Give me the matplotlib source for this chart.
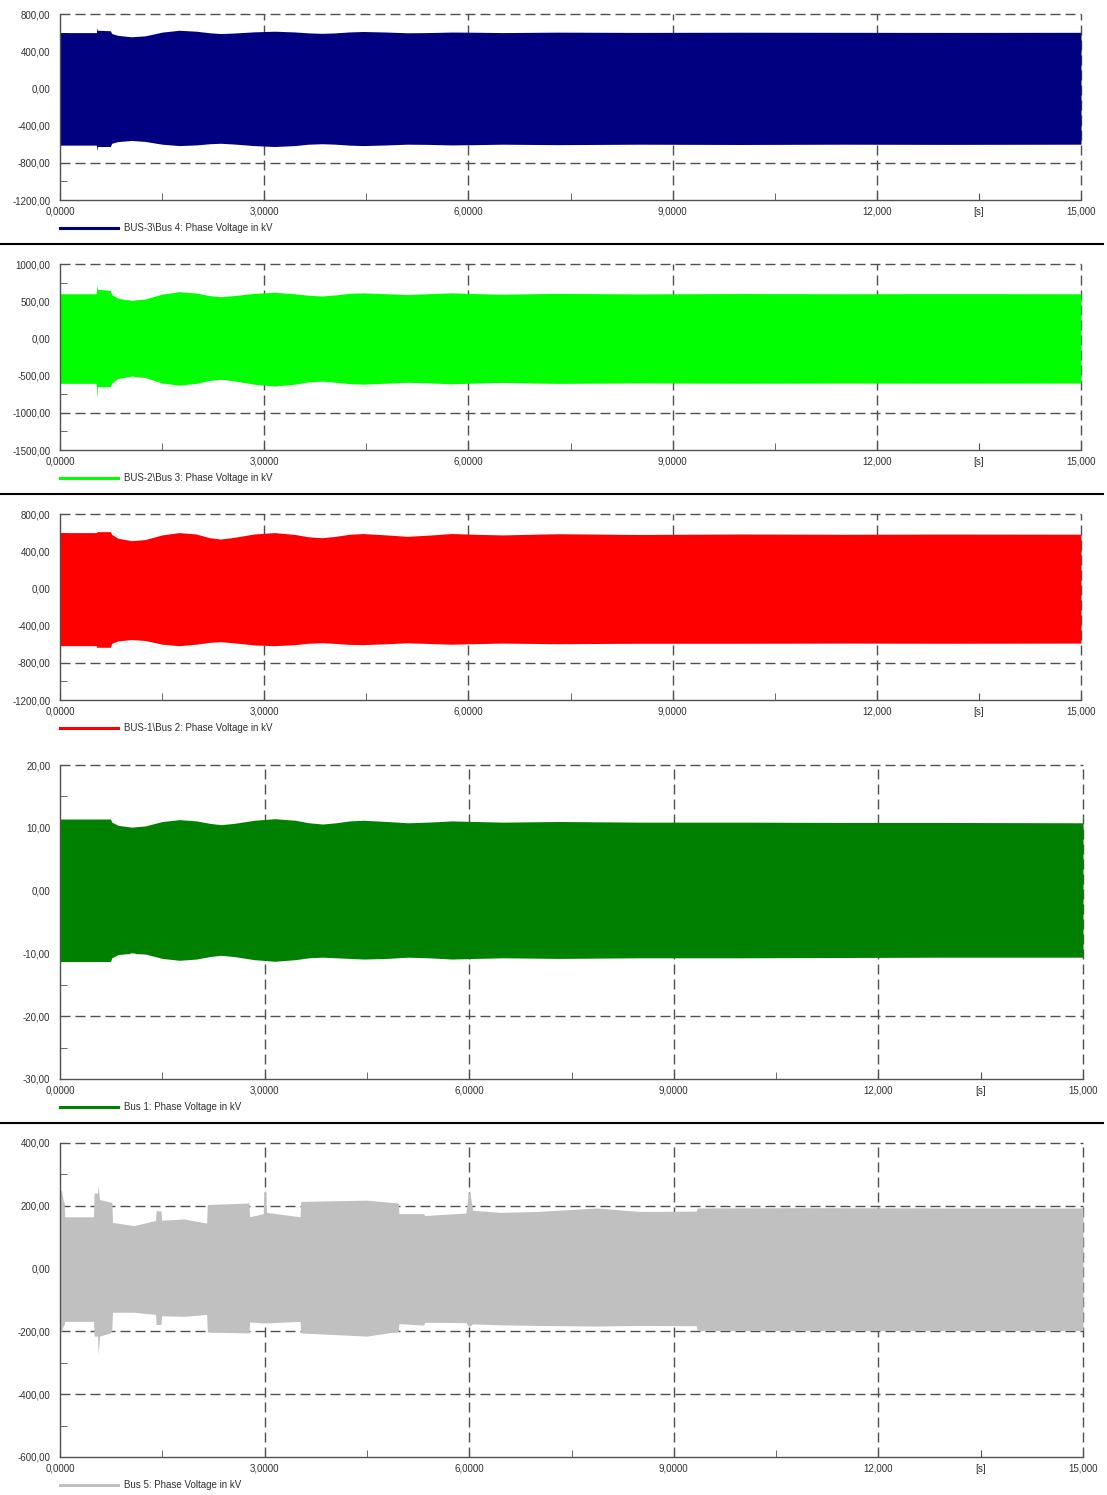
"""
phase voltage traces of the five buses, stacked like the simulation tool export
"""
import matplotlib
matplotlib.use("Agg")
import matplotlib.pyplot as plt
from matplotlib.lines import Line2D
from matplotlib.ticker import FuncFormatter

W, H = 1107, 1495

# envelope of the dense 50 Hz trace (time in s, kV)
# panels 1-4 share the same event times
tc = [0, 0.535, 0.54, 0.55, 0.74,
      0.76, 0.85, 1.05, 1.25, 1.5, 1.75, 2.0, 2.2, 2.36, 2.55, 2.85, 3.15, 3.45, 3.65, 3.85, 4.05,
      4.25, 4.45, 4.8, 5.1, 5.4, 5.75, 6.1, 6.5,
      7.3, 8.5, 10.0, 11.5, 13.0, 15.0]

up1 = [600, 600, 650, 625, 620,
       590, 570, 555, 565, 605, 625, 615, 598, 590, 595, 608, 615, 607, 597, 592, 597,
       607, 612, 606, 598, 600, 606, 604, 600,
       605, 602, 604, 603, 602, 603]
lo1 = [-610, -610, -668, -625, -625,
       -590, -572, -560, -570, -600, -615, -608, -595, -590, -598, -615, -625, -615, -600, -595, -600,
       -610, -615, -608, -600, -602, -608, -605, -600,
       -605, -600, -603, -600, -602, -600]

up2 = [600, 600, 728, 660, 645,
       590, 540, 510, 530, 595, 628, 610, 575, 560, 575, 605, 620, 600, 580, 570, 585,
       605, 612, 600, 590, 600, 612, 602, 594,
       605, 598, 603, 600, 602, 600]
lo2 = [-604, -604, -819, -650, -649,
       -600, -540, -505, -525, -600, -628, -605, -565, -550, -570, -615, -640, -615, -585, -575, -590,
       -608, -615, -602, -590, -598, -610, -600, -592,
       -605, -598, -603, -600, -602, -600]

up3 = [600, 600, 608, 610, 610,
       580, 540, 513, 525, 575, 600, 585, 545, 531, 548, 585, 600, 580, 555, 545, 560,
       582, 590, 575, 560, 572, 590, 582, 575,
       588, 580, 585, 582, 584, 583]
lo3 = [-616, -616, -633, -633, -633,
       -590, -565, -550, -560, -600, -616, -600, -580, -573, -585, -608, -616, -605, -590, -584, -592,
       -602, -605, -595, -585, -592, -600, -594, -588,
       -595, -590, -590, -588, -590, -588]

up4 = [11.4, 11.4, 11.4, 11.4, 11.4,
       10.9, 10.4, 10.1, 10.3, 11.0, 11.3, 11.1, 10.7, 10.5, 10.7, 11.2, 11.45, 11.2, 10.8, 10.6, 10.8,
       11.1, 11.2, 11.0, 10.8, 10.9, 11.1, 11.0, 10.9,
       11.0, 10.9, 10.9, 10.85, 10.85, 10.8]
lo4 = [-11.3, -11.3, -11.3, -11.3, -11.3,
       -10.7, -10.2, -9.9, -10.1, -10.8, -11.1, -10.9, -10.5, -10.3, -10.5, -11.0, -11.25, -11.0, -10.7, -10.6, -10.7,
       -10.8, -10.9, -10.8, -10.6, -10.7, -10.9, -10.8, -10.7,
       -10.8, -10.7, -10.7, -10.65, -10.6, -10.6]

t5 = [0, 0.02, 0.05, 0.06, 0.07, 0.49, 0.50, 0.55, 0.56, 0.58, 0.74, 0.76, 0.77, 1.08, 1.40, 1.41,
      1.48, 1.49, 1.82, 2.15, 2.16, 2.77, 2.78, 2.98, 2.99, 3.01, 3.03, 3.52, 3.53, 4.50, 4.96, 4.97,
      5.33, 5.35, 5.95, 5.99, 6.01, 6.05, 6.45, 7.0, 7.87, 8.5, 9.33, 9.34, 11.0, 13.0, 15.0]
up5 = [246, 250, 214, 214, 165, 165, 241, 240, 265, 220, 212, 212, 147, 137, 153, 185,
       183, 154, 158, 145, 204, 209, 165, 175, 246, 246, 179, 165, 214, 218, 209, 175,
       175, 169, 177, 241, 241, 186, 179, 182, 193, 182, 183, 193, 194, 193, 193]
lo5 = [-200, -200, -180, -180, -168, -168, -215, -215, -274, -215, -205, -194, -139, -139, -146, -178,
       -178, -150, -152, -146, -202, -205, -170, -173, -173, -173, -173, -168, -205, -215, -200, -175,
       -180, -171, -172, -183, -183, -176, -179, -181, -183, -181, -182, -197, -197, -197, -197]

names = ["BUS-3\\Bus 4: Phase Voltage in kV", "BUS-2\\Bus 3: Phase Voltage in kV",
         "BUS-1\\Bus 2: Phase Voltage in kV", "Bus 1: Phase Voltage in kV", "Bus 5: Phase Voltage in kV"]
colors = ["#000080", "#00ff00", "#ff0000", "#008000", "#c0c0c0"]
yticks = [[-1200, -800, -400, 0, 400, 800],
          [-1500, -1000, -500, 0, 500, 1000],
          [-1200, -800, -400, 0, 400, 800],
          [-30, -20, -10, 0, 10, 20],
          [-600, -400, -200, 0, 200, 400]]
xticks = [0, 3, 6, 9, 12, 13.5, 15]
xlabels = ["0,0000", "3,0000", "6,0000", "9,0000", "12,000", "[s]", "15,000"]

# panel frames in pixels: left, right, top, bottom
frames = [(60, 1081, 14, 200), (60, 1081, 264, 450), (60, 1081, 514, 700),
          (60, 1083, 765, 1079), (60, 1083, 1143, 1457)]
separators = [244, 494, 1123]

plt.rcParams["font.family"] = ["Liberation Sans", "DejaVu Sans"]
fig = plt.figure(figsize=(W / 100, H / 100), dpi=100)

dash = (0, (7.2, 3.6))
gcol = "#505050"
envs = [(tc, up1, lo1), (tc, up2, lo2), (tc, up3, lo3), (tc, up4, lo4), (t5, up5, lo5)]

for i, (t, up, lo) in enumerate(envs):
    l, r, top, bot = frames[i]
    ax = fig.add_axes([l / W, 1 - bot / H, (r - l) / W, (bot - top) / H])
    yt = yticks[i]
    ax.set_xlim(0, 15)
    ax.set_ylim(yt[0], yt[-1])

    ax.fill_between(t, lo, up, color=colors[i], lw=0, zorder=2)

    for v in yt[1:]:
        ax.axhline(v, color=gcol, lw=1.0, ls=dash, zorder=1, clip_on=False)
    for x in [3, 6, 9, 12, 15]:
        ax.axvline(x, color=gcol, lw=1.0, ls=dash, zorder=1, clip_on=False)

    for s in ["top", "right"]:
        ax.spines[s].set_visible(False)
    for s in ["left", "bottom"]:
        ax.spines[s].set_color(gcol)
        ax.spines[s].set_linewidth(1.0)
        ax.spines[s].set_zorder(3)

    ax.set_yticks(yt)
    ax.yaxis.set_major_formatter(FuncFormatter(lambda v, p: f"{v:.2f}".replace(".", ",")))
    step = yt[1] - yt[0]
    ax.set_yticks([v + step / 2 for v in yt[:-1]], minor=True)
    ax.tick_params(axis="y", which="major", length=0, pad=7, labelsize=7, labelcolor="#303030")
    ax.tick_params(axis="y", which="minor", direction="in", length=5, color=gcol)

    ax.set_xticks(xticks)
    ax.set_xticklabels(xlabels)
    ax.set_xticks([1.5, 4.5, 7.5, 10.5], minor=True)
    ax.tick_params(axis="x", which="both", direction="in", length=5, color=gcol,
                   pad=5, labelsize=7, labelcolor="#303030")

    # legend line + text under the axis
    ly = 1 - (bot + 28) / H
    fig.add_artist(Line2D([60 / W, 118 / W], [ly, ly], color=colors[i], lw=2.2))
    fig.text(124 / W, ly, names[i], fontsize=7, color="#303030", va="center", ha="left")

for y in separators:
    fig.add_artist(Line2D([0, 1103 / W], [1 - y / H] * 2, color="black", lw=1.5))

fig.savefig("out.png", dpi=100)
